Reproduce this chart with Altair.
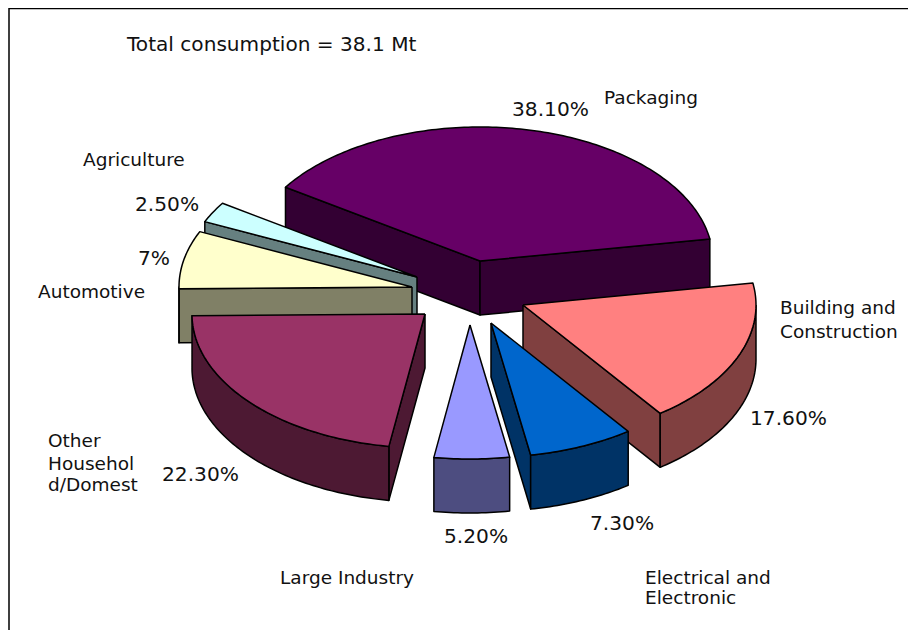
import math
import altair as alt
import pandas as pd

# ---- chart values
categories = ["Packaging", "Building and Construction", "Electrical and Electronic",
              "Large Industry", "Other Household/Domestic", "Automotive", "Agriculture"]
shares = [38.1, 17.6, 7.3, 5.2, 22.3, 7.0, 2.5]

# ---- styles
top_colors = ["#660066", "#FF8080", "#0066CC", "#9999FF", "#993366", "#FFFFCC", "#CCFFFF"]
side_colors = ["#330033", "#804040", "#003366", "#4D4D80", "#4D1933", "#808066", "#668080"]

# ---- layout of the exploded pie
apex_x = [480, 523, 491, 470, 425, 412, 417]
apex_y = [261, 305, 323, 325, 314, 287, 277]
RX, RY, DEPTH = 233, 134, 54
START_ANGLE = -56.6
draw_order = [0, 6, 5, 4, 1, 2, 3]

# ---- text
title_text = ["Total consumption = 38.1 Mt"]
title_x = [127]
title_y = [51]
percent_labels = ["38.10%", "17.60%", "7.30%", "5.20%", "22.30%", "7%", "2.50%"]
percent_x = [512, 750, 590, 444, 162, 138, 135]
percent_y = [116, 425, 530, 543, 481, 265, 211]
name_lines = ["Packaging", "Building and", "Construction",
              "Electrical and", "Electronic", "Large Industry", "Other", "Househol",
              "d/Domest", "Automotive", "Agriculture"]
name_x = [604, 780, 780, 645, 645, 280, 48, 48, 48, 38, 83]
name_y = [104, 314, 338, 584, 604, 584, 447, 470, 491, 298, 166]

W, H = 900, 622


def pt(i, t, drop=0.0):
    a = math.radians(t)
    return apex_x[i] + RX * math.sin(a), apex_y[i] - RY * math.cos(a) + drop


spans = []
angle = START_ANGLE
for s in shares:
    spans.append((angle, angle + s * 3.6))
    angle += s * 3.6

rows = []
counter = [0]


def add(name, pts, fill):
    pts = pts + [pts[0]]
    for (x, y) in pts:
        counter[0] += 1
        rows.append({"poly": name, "x": x, "y": y, "fill": fill, "i": counter[0]})


def arc(i, t0, t1, drop=0.0):
    n = max(2, int(abs(t1 - t0)) + 2)
    return [pt(i, t0 + (t1 - t0) * k / (n - 1), drop) for k in range(n)]


for i in draw_order:
    t0, t1 = spans[i]
    apex = (apex_x[i], apex_y[i])
    apex_low = (apex_x[i], apex_y[i] + DEPTH)
    dark = side_colors[i]
    # cut faces that look towards the viewer
    if -math.cos(math.radians(t0 - 90)) > 0:
        add(f"{i}c0", [apex, pt(i, t0), pt(i, t0, DEPTH), apex_low], dark)
    if -math.cos(math.radians(t1 + 90)) > 0:
        add(f"{i}c1", [apex, pt(i, t1), pt(i, t1, DEPTH), apex_low], dark)
    # outer wall: only the front half of the rim shows
    a = max(t0, 90)
    b = min(t1, 270)
    if b > a:
        add(f"{i}w", arc(i, a, b) + arc(i, b, a, DEPTH), dark)
    # top face
    add(f"{i}t", [apex] + arc(i, t0, t1), top_colors[i])

df = pd.DataFrame(rows)

xs = alt.Scale(domain=[8, 8 + W], range=[0, W])
ys = alt.Scale(domain=[8, 8 + H], range=[0, H])
X = alt.X("x:Q", scale=xs, axis=None)
Y = alt.Y("y:Q", scale=ys, axis=None)

pie = alt.Chart(df).mark_line(stroke="black", strokeWidth=1.5, strokeJoin="round").encode(
    x=X, y=Y,
    fill=alt.Fill("fill:N", scale=None),
    detail="poly:N",
    order=alt.Order("i:Q"),
)

frame = pd.DataFrame({"x": [9, 9, 8 + W], "y": [8 + H, 8.5, 8.5], "i": [0, 1, 2]})
border = alt.Chart(frame).mark_line(stroke="black", strokeWidth=1.5).encode(
    x=X, y=Y, order=alt.Order("i:Q"),
)


def text_layer(labels, x, y, size):
    return alt.Chart(pd.DataFrame({"t": labels, "x": x, "y": y})).mark_text(
        font="DejaVu Sans", fontSize=size, align="left", baseline="alphabetic", color="#111111"
    ).encode(x=X, y=Y, text="t:N")


chart = (
    border + pie
    + text_layer(percent_labels, percent_x, percent_y, 20.2)
    + text_layer(name_lines, name_x, name_y, 18.5)
    + text_layer(title_text, title_x, title_y, 20.1)
).properties(
    width=W, height=H, padding=0, background="white",
    autosize=alt.AutoSizeParams(type="none"),
).configure_view(stroke=None)

chart.save("out.html", embed_options={"renderer": "svg", "actions": False})
